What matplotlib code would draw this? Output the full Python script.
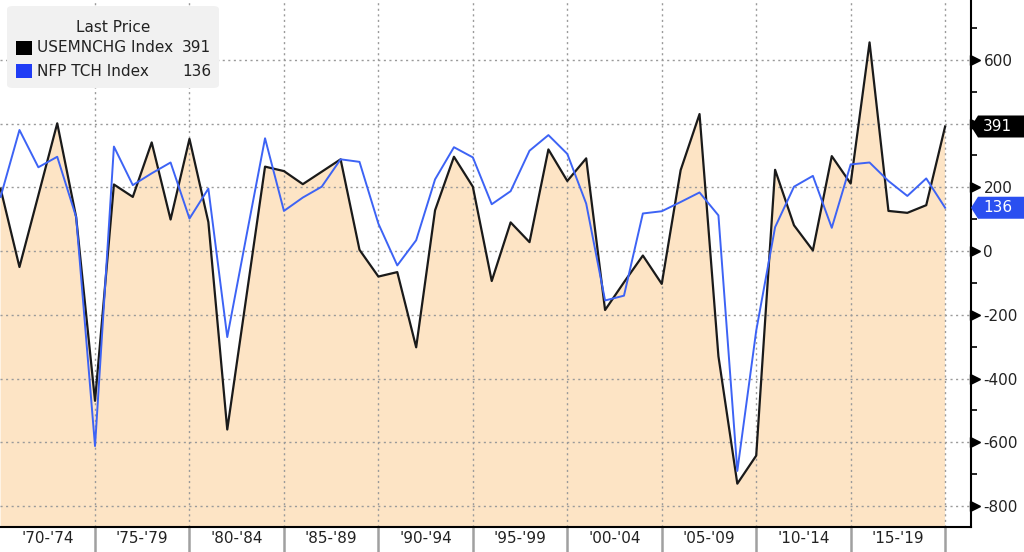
import matplotlib
matplotlib.use("Agg")
import matplotlib.pyplot as plt
from matplotlib.patches import Polygon, FancyBboxPatch, Rectangle

# annual values, 1970-2020
years = list(range(1970, 2021))

usemnchg = [196, -50, 175, 401, 107, -470, 209, 170, 341, 99,
            352, 91, -560, -148, 265, 251, 210, 249, 288, 4,
            -80, -66, -302, 128, 296, 202, -94, 90, 28, 319,
            220, 291, -185, -98, -14, -103, 254, 430, -330, -730,
            -642, 255, 81, 2, 298, 212, 655, 126, 120, 144,
            391]

nfp_tch = [170, 380, 263, 296, 107, -612, 328, 207, 244, 278,
           102, 196, -270, 43, 354, 126, 168, 202, 288, 280,
           86, -45, 34, 225, 326, 294, 147, 188, 315, 364,
           305, 149, -155, -140, 118, 125, 154, 184, 112, -690,
           -250, 75, 202, 236, 73, 272, 278, 220, 173, 228,
           136]

block_edges = list(range(1975, 2021, 5))
block_centers = [1972.5 + 5 * i for i in range(10)]
block_labels = ["'70-'74", "'75-'79", "'80-'84", "'85-'89", "'90-'94",
                "'95-'99", "'00-'04", "'05-'09", "'10-'14", "'15-'19"]
y_major = list(range(-800, 601, 200))
y_minor = list(range(-700, 701, 200))

series_names = ["USEMNCHG Index", "NFP TCH Index"]
black = "#1a1a1a"
blue = "#3d63f5"
fill = "#fde4c5"
W, H = 1024, 552

fig = plt.figure(figsize=(W / 100, H / 100), dpi=100)
ax = fig.add_axes([0, 25 / H, 971 / W, 1 - 25 / H])

ax.fill_between(years, usemnchg, -2000, color=fill, lw=0, zorder=1)
ax.plot(years, usemnchg, color=black, lw=1.6, zorder=3)
ax.plot(years, nfp_tch, color=blue, lw=1.4, zorder=4)

ax.set_xlim(1969.97, 2021.37)
ax.set_ylim(-866, 788)

# grid
for yv in y_major:
    ax.axhline(yv, color="#9a9a9a", lw=1, ls=(0, (1.5, 2.5)), zorder=2)
for xv in block_edges:
    ax.axvline(xv, color="#9a9a9a", lw=1, ls=(0, (1.5, 2.5)), zorder=2)

# x axis: separators between blocks, labels centred in blocks
ax.set_xticks(block_edges)
ax.set_xticklabels([])
ax.tick_params(axis="x", which="major", length=20, width=1.8, color="#a0a0a0")
ax.set_xticks(block_centers, minor=True)
ax.set_xticklabels(block_labels, minor=True)
ax.tick_params(axis="x", which="minor", length=0, pad=3, labelsize=11, labelcolor="#222222")

# y axis on the right with arrow ticks
ax.yaxis.tick_right()
ax.set_yticks(y_major)
ax.set_yticklabels([str(v) for v in y_major])
ax.tick_params(axis="y", which="major", length=0, pad=9, labelsize=11, labelcolor="#222222")
ax.set_yticks(y_minor, minor=True)
ax.tick_params(axis="y", which="minor", length=4, width=1.2, color="black", direction="out")
ax.plot([1 + 4 / 971] * len(y_major), y_major, ls="none", marker=">", ms=7,
        color="black", transform=ax.get_yaxis_transform(), clip_on=False, zorder=5)

for s in ["top", "left"]:
    ax.spines[s].set_visible(False)
ax.spines["right"].set_linewidth(1.5)
ax.spines["bottom"].set_linewidth(1.5)

# last price tags
def price_tag(value, color):
    disp = ax.transData.transform((2021, value))
    yc = disp[1]
    x0, x1, xb = 971, 1024, 978
    h = 11
    pts = [(x0, yc), (xb, yc + h), (x1, yc + h), (x1, yc - h), (xb, yc - h)]
    pts = [(px / W, py / H) for px, py in pts]
    fig.add_artist(Polygon(pts, closed=True, fc=color, ec="none",
                           transform=fig.transFigure, zorder=5))
    fig.text(983 / W, yc / H, str(value), color="white", fontsize=11,
             va="center", ha="left", zorder=6)

price_tag(usemnchg[-1], "black")
price_tag(nfp_tch[-1], "#2a4ff0")

# legend box
fig.add_artist(FancyBboxPatch((7 / W, 1 - 88 / H), 212 / W, 82 / H,
                              boxstyle="round,pad=0,rounding_size=0.006",
                              fc="#f1f1f1", ec="none", transform=fig.transFigure, zorder=5))
fig.text(113 / W, 1 - 28 / H, "Last Price", ha="center", va="center",
         fontsize=11, color="#222222", zorder=6)
rows = [(series_names[0], usemnchg[-1], "black", 48),
        (series_names[1], nfp_tch[-1], "#1f3cf5", 71)]
for name, val, col, yy in rows:
    fig.add_artist(Rectangle((16 / W, 1 - (yy + 7) / H), 16 / W, 14 / H,
                             fc=col, ec="none", transform=fig.transFigure, zorder=6))
    fig.text(37 / W, 1 - yy / H, name, ha="left", va="center",
             fontsize=11, color="#222222", zorder=6)
    fig.text(211 / W, 1 - yy / H, str(val), ha="right", va="center",
             fontsize=11, color="#222222", zorder=6)

fig.savefig("out.png", dpi=100)
